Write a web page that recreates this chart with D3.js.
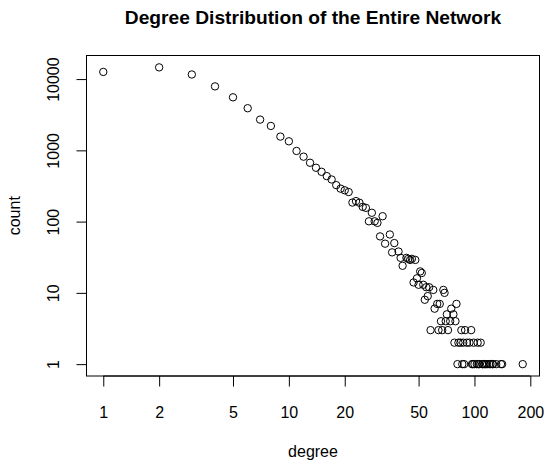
<!DOCTYPE html>
<html>
<head>
<meta charset="utf-8">
<script src="https://cdn.jsdelivr.net/npm/d3@7"></script>
<style>
  html, body { margin: 0; padding: 0; background: #ffffff; }
  svg { display: block; font-family: "Liberation Sans", Arial, Helvetica, sans-serif; }
</style>
</head>
<body>
<svg id="chart" width="544" height="465"></svg>
<script>
// ---- data ----
const title = "Degree Distribution of the Entire Network";
const xLabel = "degree";
const yLabel = "count";
const xTicks = [1, 2, 5, 10, 20, 50, 100, 200];
const yTicks = [1, 10, 100, 1000, 10000];

const degrees = [
  1, 2, 3, 4, 5, 6, 7, 8, 9, 10,
  11, 12, 13, 14, 15, 16, 17, 18, 19, 20,
  21, 22, 23, 24, 25, 26, 27, 28, 29, 30,
  31, 32, 33, 35, 36, 37, 39, 40, 41, 43,
  44, 45, 46, 47, 48, 49, 50, 51, 52, 53,
  54, 55, 56, 57, 58, 60, 61, 63, 64, 65,
  66, 67, 68, 69, 70, 71, 72, 74, 75, 77,
  78, 79, 80, 81, 82, 84, 85, 86, 87, 88,
  89, 91, 94, 96, 97, 98, 99, 100, 103, 104,
  105, 106, 108, 110, 111, 113, 115, 117, 120, 122,
  125, 126, 131, 139, 141, 182
];
const counts = [
  12600, 14600, 11600, 7900, 5550, 3900, 2700, 2200, 1560, 1340,
  980, 815, 670, 570, 500, 435, 390, 325, 290, 275,
  260, 185, 194, 184, 161, 156, 101, 133, 101, 96,
  62, 119, 49, 66, 37, 50, 38, 31, 24, 31,
  30, 29, 30, 14, 29, 16, 13, 20, 19, 13,
  8, 12, 9, 12, 3, 11, 6, 7, 3, 7,
  4, 3, 11, 10, 4, 5, 3, 4, 6, 5,
  2, 4, 7, 1, 2, 2, 3, 1, 2, 1,
  3, 2, 2, 3, 1, 1, 2, 1, 1, 2,
  1, 1, 2, 1, 1, 1, 1, 1, 1, 1,
  1, 1, 1, 1, 1, 1
];

// ---- layout ----
const W = 544, H = 465;
const box = { left: 86.5, right: 539.5, top: 55.5, bottom: 376 };

const points = degrees.map((d, i) => ({ d, c: counts[i] }));

// R-style 4% extension of log range
function extLog(vals) {
  const lo = Math.log10(d3.min(vals)), hi = Math.log10(d3.max(vals));
  const pad = (hi - lo) * 0.04;
  return [Math.pow(10, lo - pad), Math.pow(10, hi + pad)];
}

const x = d3.scaleLog().domain(extLog(degrees)).range([box.left, box.right]);
const y = d3.scaleLog().domain(extLog(counts)).range([box.bottom, box.top]);

const svg = d3.select("#chart");
svg.append("rect").attr("width", W).attr("height", H).attr("fill", "#fff");

// points
svg.append("g")
  .selectAll("circle")
  .data(points)
  .join("circle")
  .attr("cx", p => x(p.d))
  .attr("cy", p => y(p.c))
  .attr("r", 3.7)
  .attr("fill", "none")
  .attr("stroke", "#000")
  .attr("stroke-width", 1);

// box
svg.append("rect")
  .attr("x", box.left).attr("y", box.top)
  .attr("width", box.right - box.left).attr("height", box.bottom - box.top)
  .attr("fill", "none").attr("stroke", "#000").attr("stroke-width", 1);

// x axis
const xAxis = d3.axisBottom(x)
  .tickValues(xTicks)
  .tickFormat(d3.format("d"))
  .tickSizeInner(10.5).tickSizeOuter(0).tickPadding(9);
const gx = svg.append("g").attr("transform", `translate(0,${box.bottom})`).call(xAxis);
gx.select(".domain").attr("d", `M${x(xTicks[0])},0H${x(xTicks[xTicks.length - 1])}`).attr("stroke", "#000");
gx.selectAll(".tick line").attr("stroke", "#000");
gx.selectAll(".tick text")
  .attr("font-size", 16).attr("fill", "#000")
  .attr("font-family", "Liberation Sans, Arial, sans-serif")
  .attr("dy", null).attr("y", 41.5);

// y axis
const yAxis = d3.axisLeft(y)
  .tickValues(yTicks)
  .tickFormat(d3.format("d"))
  .tickSizeInner(10).tickSizeOuter(0);
const gy = svg.append("g").attr("transform", `translate(${box.left},0)`).call(yAxis);
gy.select(".domain").attr("d", `M0,${y(yTicks[0])}V${y(yTicks[yTicks.length - 1])}`).attr("stroke", "#000");
gy.selectAll(".tick line").attr("stroke", "#000");
gy.selectAll(".tick text")
  .attr("font-size", 16).attr("fill", "#000")
  .attr("font-family", "Liberation Sans, Arial, sans-serif")
  .attr("x", null).attr("dy", null)
  .attr("text-anchor", "middle")
  .attr("transform", "translate(-28,0) rotate(-90)");

// title
svg.append("text")
  .attr("x", (box.left + box.right) / 2).attr("y", 24)
  .attr("text-anchor", "middle")
  .attr("font-size", 19.2).attr("font-weight", "bold")
  .text(title);

// axis labels
svg.append("text")
  .attr("x", (box.left + box.right) / 2).attr("y", 457)
  .attr("text-anchor", "middle").attr("font-size", 16)
  .text(xLabel);

svg.append("text")
  .attr("transform", `translate(20,${(box.top + box.bottom) / 2}) rotate(-90)`)
  .attr("text-anchor", "middle").attr("font-size", 16)
  .text(yLabel);
</script>
</body>
</html>
